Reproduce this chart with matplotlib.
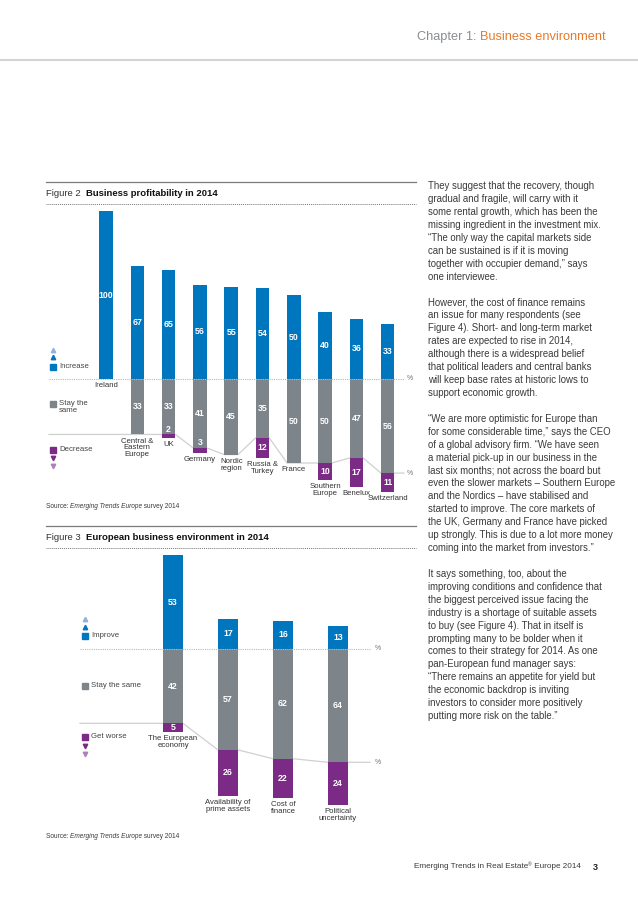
import numpy as np
import matplotlib
matplotlib.use('Agg')
import matplotlib.pyplot as plt

plt.rcParams['font.family'] = ['Liberation Sans', 'DejaVu Sans']

W, H = 638, 902
BLUE = '#0076bf'
GREY = '#7d848a'
PURPLE = '#7b2a85'
LBLUE = '#8fb3dd'
LPURPLE = '#a982b8'
TXT = '#3a3a3a'
NARROW = ['Liberation Sans Narrow', 'Liberation Sans']

# Figure 2 data
countries = ['Ireland', 'Central &\nEastern\nEurope', 'UK', 'Germany', 'Nordic\nregion',
             'Russia &\nTurkey', 'France', 'Southern\nEurope', 'Benelux', 'Switzerland']
increase = np.array([100, 67, 65, 56, 55, 54, 50, 40, 36, 33])
same = np.array([0, 33, 33, 41, 45, 35, 50, 50, 47, 56])
decrease = np.array([0, 0, 2, 3, 0, 12, 0, 10, 17, 11])

# Figure 3 data
issues = ['The European\neconomy', 'Availability of\nprime assets', 'Cost of\nfinance',
          'Political\nuncertainty']
improve = np.array([53, 17, 16, 13])
same3 = np.array([42, 57, 62, 64])
worse = np.array([5, 26, 22, 24])

body = [
    "They suggest that the recovery, though",
    "gradual and fragile, will carry with it",
    "some rental growth, which has been the",
    "missing ingredient in the investment mix.",
    "\u201cThe only way the capital markets side",
    "can be sustained is if it is moving",
    "together with occupier demand,\u201d says",
    "one interviewee.",
    "",
    "However, the cost of finance remains",
    "an issue for many respondents (see",
    "Figure 4). Short- and long-term market",
    "rates are expected to rise in 2014,",
    "although there is a widespread belief",
    "that political leaders and central banks",
    "will keep base rates at historic lows to",
    "support economic growth.",
    "",
    "\u201cWe are more optimistic for Europe than",
    "for some considerable time,\u201d says the CEO",
    "of a global advisory firm. \u201cWe have seen",
    "a material pick-up in our business in the",
    "last six months; not across the board but",
    "even the slower markets \u2013 Southern Europe",
    "and the Nordics \u2013 have stabilised and",
    "started to improve. The core markets of",
    "the UK, Germany and France have picked",
    "up strongly. This is due to a lot more money",
    "coming into the market from investors.\u201d",
    "",
    "It says something, too, about the",
    "improving conditions and confidence that",
    "the biggest perceived issue facing the",
    "industry is a shortage of suitable assets",
    "to buy (see Figure 4). That in itself is",
    "prompting many to be bolder when it",
    "comes to their strategy for 2014. As one",
    "pan-European fund manager says:",
    "\u201cThere remains an appetite for yield but",
    "the economic backdrop is inviting",
    "investors to consider more positively",
    "putting more risk on the table.\u201d",
]

fig = plt.figure(figsize=(W / 100, H / 100), dpi=100)
page = fig.add_axes([0, 0, 1, 1])
page.set_xlim(0, W)
page.set_ylim(H, 0)
page.axis('off')
renderer = fig.canvas.get_renderer()


def runs(x, y, parts, size, color=TXT, va='center'):
    # draw text pieces one after another on the same line
    for txt, weight, style, col, dy, scale in parts:
        t = page.text(x, y + dy, txt, fontsize=size * scale, fontweight=weight, fontstyle=style,
                      color=col or color, va=va, ha='left')
        x += t.get_window_extent(renderer).width


def px_axes(x0, y0, x1, y1):
    a = fig.add_axes([x0 / W, 1 - y1 / H, (x1 - x0) / W, (y1 - y0) / H])
    a.axis('off')
    a.patch.set_visible(False)
    return a


# header and footer
page.plot([0, W], [60, 60], color='#d4d4d4', lw=1.5)
runs(417, 37, [('Chapter 1: ', 'normal', 'normal', '#8a8d91', 0, 1),
               ('Business environment', 'normal', 'normal', '#e57a2c', 0, 1)], 9.2)
runs(414, 867, [('Emerging Trends in Real Estate', 'normal', 'normal', None, 0, 1),
                ('\u00ae', 'normal', 'normal', None, -2, 0.6),
                (' Europe 2014', 'normal', 'normal', None, 0, 1)], 5.9)
page.text(593, 867, '3', fontsize=6.5, fontweight='bold', color='#222', va='center')

# body text column
for i, line in enumerate(body):
    page.text(428, 186 + 12.93 * i, line, fontsize=6.95, color=TXT, va='center')


def fig_header(y_top, num, title):
    page.plot([46, 416], [y_top, y_top], color='#7a7a7a', lw=0.9)
    runs(46, y_top + 11, [('Figure %d  ' % num, 'normal', 'normal', '#333', 0, 1),
                          (title, 'bold', 'normal', '#111', 0, 1)], 6.8)
    page.plot([46, 416], [y_top + 22, y_top + 22], color='#777', lw=0.7, ls=(0, (1, 1)))


def source(y):
    runs(46, y, [('Source: ', 'normal', 'normal', None, 0, 1),
                 ('Emerging Trends Europe', 'normal', 'italic', None, 0, 1),
                 (' survey 2014', 'normal', 'normal', None, 0, 1)], 4.7)


def legend_item(x, y, color, label, tri=None, size=5.6):
    page.plot(x + 3, y, marker='s', ms=4.3, color=color, ls='none')
    page.text(x + 9, y - 4, label, fontsize=size, color='#444', va='top', linespacing=1.05)
    if tri is not None:
        marker, cols, ys = tri
        for c, yy in zip(cols, ys):
            page.plot(x + 3, yy, marker=marker, ms=3.2, color=c, ls='none')


def stacked(ax, labels, up, mid, down, w, line_left, line_right, small_lift):
    x = np.arange(len(labels))
    ax.bar(x, up, w, color=BLUE, linewidth=0)
    ax.bar(x, mid, w, bottom=-mid, color=GREY, linewidth=0)
    ax.bar(x, down, w, bottom=-mid - down, color=PURPLE, linewidth=0)
    # baseline
    ax.plot([line_left, line_right], [0, 0], color='#b8b8b8', lw=0.8, ls=(0, (1, 1)))
    ax.text(line_right + 0.08, 0, '%', fontsize=5, color='#777', va='center')
    # line joining the bottoms of the middle bars
    start = np.argmax(mid > 0)
    lx, ly = [line_left], [-mid[start]]
    for i in range(start, len(labels)):
        lx += [i - w / 2, i + w / 2]
        ly += [-mid[i], -mid[i]]
    lx.append(line_right)
    ly.append(-mid[-1])
    ax.plot(lx, ly, color='#d0d0d0', lw=0.9, zorder=0)
    ax.text(line_right + 0.08, -mid[-1], '%', fontsize=5, color='#777', va='center')
    kw = dict(color='white', fontsize=6.3, fontweight='bold', ha='center', va='center',
              family=NARROW)
    for i in x:
        if up[i]:
            ax.text(i, up[i] / 2, str(up[i]), **kw)
        if mid[i]:
            ax.text(i, -mid[i] / 2, str(mid[i]), **kw)
        if down[i]:
            yy = -mid[i] - down[i] / 2 if down[i] >= 5 else -mid[i] + small_lift
            ax.text(i, yy, str(down[i]), **kw)
        ax.annotate(labels[i], (i, -mid[i] - down[i]), xytext=(0, -2.3),
                    textcoords='offset points', ha='center', va='top',
                    fontsize=5.6, color='#333', linespacing=0.95)


# Figure 2
fig_header(182, 2, 'Business profitability in 2014')
base2, scale2, c2, step2 = 379, 1.68, 106, 31.3
ax2 = px_axes(40, 205, 425, 530)
ax2.set_xlim((40 - c2) / step2, (425 - c2) / step2)
ax2.set_ylim(-(530 - base2) / scale2, (base2 - 205) / scale2)
stacked(ax2, countries, increase, same, decrease, 0.43,
        (49 - c2) / step2, (404 - c2) / step2, 3)
legend_item(50, 367, BLUE, 'Increase', ('^', [LBLUE, BLUE], [349.5, 357]))
legend_item(50, 404, GREY, 'Stay the\nsame')
legend_item(50, 450, PURPLE, 'Decrease', ('v', [PURPLE, LPURPLE], [457.5, 466]))
source(506)

# Figure 3
fig_header(526, 3, 'European business environment in 2014')
base3, scale3, c3, step3 = 649, 1.77, 173, 55
ax3 = px_axes(60, 550, 425, 850)
ax3.set_xlim((60 - c3) / step3, (425 - c3) / step3)
ax3.set_ylim(-(850 - base3) / scale3, (base3 - 550) / scale3)
stacked(ax3, issues, improve, same3, worse, 0.364,
        (80 - c3) / step3, (370 - c3) / step3, 3)
legend_item(82, 636, BLUE, 'Improve', ('^', [LBLUE, BLUE], [619, 627]))
legend_item(82, 686, GREY, 'Stay the same')
legend_item(82, 737, PURPLE, 'Get worse', ('v', [PURPLE, LPURPLE], [745.5, 753.5]))
source(836)

fig.savefig('out.png', dpi=100)
